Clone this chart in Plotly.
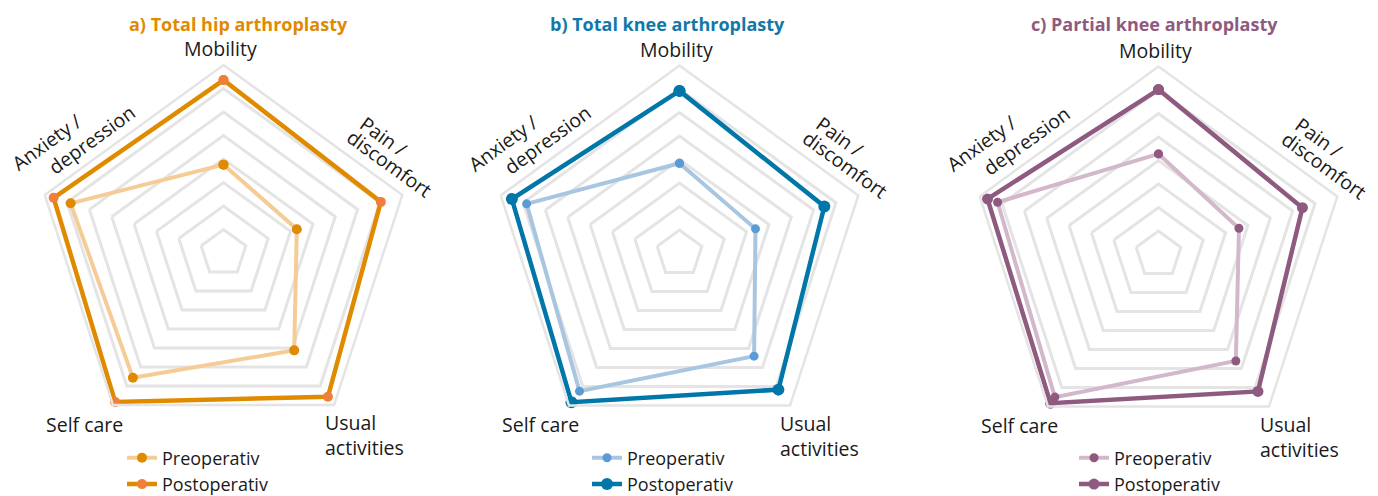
import plotly.graph_objects as go

# ---------------- data ----------------
categories = ["Mobility", "Pain / discomfort", "Usual activities", "Self care", "Anxiety / depression"]
panel_titles = ["a) Total hip arthroplasty", "b) Total knee arthroplasty", "c) Partial knee arthroplasty"]
series_names = ["Preoperativ", "Postoperativ"]

hip_pre = [57.6, 52.8, 71.2, 85.6, 88.4]
hip_post = [93.6, 90.4, 95.6, 98.4, 96.0]
tka_pre = [58.4, 54.0, 74.0, 92.4, 88.4]
tka_post = [89.2, 84.8, 91.6, 98.2, 95.0]
uka_pre = [62.8, 56.0, 76.0, 95.0, 92.0]
uka_post = [90.2, 84.4, 92.0, 98.2, 96.5]

radial_ticks = [30, 40, 50, 60, 70, 80, 90, 100]
radial_range = [20, 100]

panels = [(hip_pre, hip_post), (tka_pre, tka_post), (uka_pre, uka_post)]

# ---------------- styling / layout ----------------
W, H = 1378, 496
R = 188
centers = [(223.5, 253.0), (679.5, 253.5), (1158.5, 254.5)]
title_x = [238.5, 667.5, 1154.0]
legend_text_x = [163, 628, 1115]

styles = [
    dict(title="#E08A00", pre_line="#F6CC96", pre_marker="#E08A00", post_line="#E08A00", post_marker="#F07F3C",
         pre_size=10, post_size=10),
    dict(title="#1079A8", pre_line="#A8C6E0", pre_marker="#5B9BD5", post_line="#0077A8", post_marker="#0077A8",
         pre_size=9, post_size=12),
    dict(title="#8E5A80", pre_line="#D3B8CC", pre_marker="#8E5A80", post_line="#8E5A80", post_marker="#8E5A80",
         pre_size=9, post_size=11),
]

FONT = "Open Sans"
TXT = "#1a1a1a"
GRID = "#E4E4E4"
LBL = 19.5

fig = go.Figure()
annotations = []
layout_extra = {}

for i, ((pre, post), st, (cx, cy)) in enumerate(zip(panels, styles, centers)):
    pname = "polar" if i == 0 else f"polar{i+1}"
    lname = "legend" if i == 0 else f"legend{i+1}"
    theta = categories + [categories[0]]
    fig.add_trace(go.Scatterpolar(
        r=pre + [pre[0]], theta=theta, mode="lines+markers", name=series_names[0],
        line=dict(color=st["pre_line"], width=4),
        marker=dict(color=st["pre_marker"], size=st["pre_size"]),
        subplot=pname, legend=lname, cliponaxis=False,
    ))
    fig.add_trace(go.Scatterpolar(
        r=post + [post[0]], theta=theta, mode="lines+markers", name=series_names[1],
        line=dict(color=st["post_line"], width=4.5),
        marker=dict(color=st["post_marker"], size=st["post_size"]),
        subplot=pname, legend=lname, cliponaxis=False,
    ))

    layout_extra[pname] = dict(
        domain=dict(x=[(cx - R) / W, (cx + R) / W], y=[1 - (cy + R) / H, 1 - (cy - R) / H]),
        gridshape="linear",
        bgcolor="rgba(0,0,0,0)",
        radialaxis=dict(range=radial_range, tickvals=radial_ticks, showticklabels=False, ticks="",
                        showline=False, gridcolor=GRID, gridwidth=2.5),
        angularaxis=dict(direction="clockwise", rotation=90, showticklabels=False, ticks="",
                         showgrid=False, showline=True, linecolor=GRID, linewidth=2.5),
    )
    layout_extra[lname] = dict(
        x=(legend_text_x[i] - 41) / W, xanchor="left",
        y=1 - 471 / H, yanchor="middle",
        font=dict(family=FONT, size=18, color=TXT),
        bgcolor="rgba(0,0,0,0)", tracegroupgap=0, itemwidth=30,
    )

    def px(x, y):
        return dict(x=x / W, y=1 - y / H, xref="paper", yref="paper", showarrow=False)

    f = dict(family=FONT, size=LBL, color=TXT)
    # title
    annotations.append(dict(**px(title_x[i], 24), text=panel_titles[i], xanchor="center", yanchor="middle",
                            font=dict(family=FONT, size=18, color=st["title"], weight="bold")))
    # category labels
    mob, pain, usual, selfc, anx = categories
    annotations.append(dict(**px(cx - 3, cy - 204), text=mob, xanchor="center", yanchor="middle", font=f))
    p1, p2 = pain.split(" / ")
    annotations.append(dict(**px(cx + 160.5, cy - 117), text=p1 + " /", textangle=36,
                            xanchor="center", yanchor="middle", font=f))
    annotations.append(dict(**px(cx + 166, cy - 89), text=p2, textangle=36,
                            xanchor="center", yanchor="middle", font=f))
    annotations.append(dict(**px(cx + 99, cy + 182), text="<br>".join(usual.split(" ")), align="left",
                            xanchor="left", yanchor="middle", font=f))
    annotations.append(dict(**px(cx - 139.5, cy + 171), text=selfc, xanchor="center", yanchor="middle", font=f))
    a1, a2 = anx.split(" / ")
    annotations.append(dict(**px(cx - 177.5, cy - 110.5), text=a1 + " /", textangle=-36,
                            xanchor="center", yanchor="middle", font=f))
    annotations.append(dict(**px(cx - 132, cy - 114), text=a2, textangle=-36,
                            xanchor="center", yanchor="middle", font=f))

fig.update_layout(
    width=W, height=H,
    margin=dict(l=0, r=0, t=0, b=0, pad=0, autoexpand=False),
    paper_bgcolor="white", plot_bgcolor="white",
    font=dict(family=FONT, color=TXT),
    annotations=annotations,
    **layout_extra,
)

fig.write_html(
    "out.html",
    config={"displayModeBar": False},
    post_script="document.body.style.margin='0';document.body.style.overflow='hidden';"
                "document.documentElement.style.overflow='hidden';",
)
